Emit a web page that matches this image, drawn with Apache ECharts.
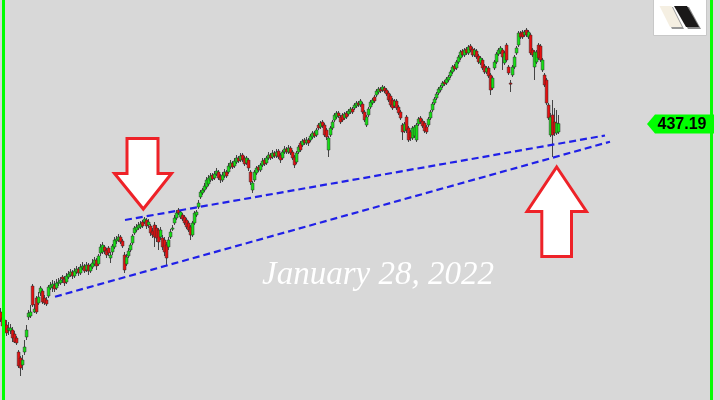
<!DOCTYPE html>
<html><head><meta charset="utf-8">
<script src="https://cdn.jsdelivr.net/npm/echarts@6/dist/echarts.min.js"></script>
<style>html,body{margin:0;padding:0;background:#d8d8d8}#c{width:720px;height:400px}</style>
</head><body><div id="c"></div>
<script>
// Daily OHLC values, index = trading day
const openP = [343,340,339,336.5,334,333.5,334,332,330,323,320,316.5,323,330.5,340.5,341,356,343,350,347.5,352.5,353.5,350,349,351,355,355.5,356.5,
355,357.5,357.5,360.5,359.5,358,360.5,361.5,363,361,363,364.5,362.5,365,366,364,366.5,363.5,365.5,367,369,367,
372.5,373,375.5,374,375,370,373,375.5,378.5,379,380.5,378.5,371.5,367,371,374,377.5,382.5,384,385,385.5,388,388,389,386.5,386,383.5,386.5,385,384,380.5,380,379,376.5,375.5,380.5,384.5,387.5,390,394,390.5,391.5,390.5,389,387.5,385.5,381.5,387.5,391.5,395.5,400.5,402.5,404,405.5,
407,409,411.5,410,412,413,411,409,411,413,413,415.5,417.5,416,418,420,419,421.5,420,417.5,419,413,404,409,412.5,415.5,414,416.5,419,417.5,420,421.5,420.5,422.5,421,423.5,421.5,420,423,424.5,423,425,423,420.5,418,423,
427.5,426.5,429,427.5,429,429,430.5,432.5,431.5,436.5,435.5,438,436.5,434,424,431.5,435,439,440.5,442.5,440.5,441.5,440,442.5,442,443,444.5,445,446,447.5,446.5,447,443,436.5,441.5,445.5,447.5,450.5,451.5,453,454.5,454,455,454,452.5,451,449,446,448.5,445.5,443,436.5,433.5,440.5,435,433,430,431,429,437,440,438.5,437.5,435.5,436.5,440,444,447.5,450,452.5,454,456,458,457.5,459,
461,463,466,465,468,470,473.5,471.5,474.5,472.5,476,474.5,471.5,473.5,471,467.5,469,466,463,465,461.5,455,465,468,472,473,474,467.5,476.5,465.5,457.5,461.5,465.5,472.5,476.5,482.5,483,481.5,484,480.5,481.5,474,465.5,468,476.5,476,464,461.5,459,446.5,431.5,441.5,438,432.5,433];
const closeP = [339,336,333,332.5,335,335,330,328,327.5,316,315,319,325.5,334,342.5,343,346.5,344.5,343,350.5,355,348,347.5,347,355.5,356.5,357,354.5,
357.5,358,359,359.5,357.5,361,362,363,361,363.5,364.5,362.5,365.5,366,363.5,366.5,363.5,366,367.5,369,366,371,
375.5,376.5,373.5,371.5,372.5,371.5,376,379,379.5,380.5,378,376,364,370.5,373.5,376.5,381,385,385.5,386.5,387,386,389.5,386,388,382.5,381.5,380.5,380,378,384,375.5,373,370,379,383,385,390,392.5,392.5,393,389.5,387.5,385.5,384,381.5,387.5,392.5,393,397.5,403,404,406,409,
410,411,409.5,412,413.5,410,409,411.5,413,411,416,417.5,415.5,418.5,420,418.5,421,419,417,420,415,408,407.5,413,415,414,416.5,418.5,417,420,421.5,420,422.5,421,423,420.5,419,423,424.5,423,425,422.5,420,416.5,422.5,425.5,
424,428.5,427.5,429,427.5,431,432.5,431,434,435,437.5,436,431.5,430.5,430,435,438,441.5,442.5,441,438,439,442,440.5,443.5,444.5,443,446.5,447.5,446.5,448.5,443,439,440.5,444.5,448,449,448.5,453.5,454.5,453.5,455.5,453.5,452,449,446.5,445,448.5,445,442.5,440,433,437,434,429,430,435,435.5,436.5,439.5,438,436,433.5,433,439.5,443,447,449.5,452,454.5,455.5,457.5,457,459.5,460.5,
463,465.5,464.5,468,470.5,473,471.5,474,472.5,475.5,474,471.5,474,470.5,468,470,465,463,465,461,454,460,468,472,474,475,470.5,472.5,469,462.5,457,465.5,470.5,475,482.5,480.5,480.5,483,481.5,483,472.5,471.5,473,473,470,469,469,456.5,447.5,440,440.5,431.5,432.5,437.5,437.19];
const lowP = [338,334,331.5,331,331.5,332,328,327.5,326.5,315,311,314,321.5,329,339,340,345.5,342.5,342,346.5,351,347,346.5,346,350,354,353,353,
354,356,356.5,357.5,356,357,359.5,360.5,359.5,360,362,361,361.5,364,362.5,363,361.5,362.5,364.5,366,364,366,
371,372,372,370,371,367.5,371.5,374.5,377,378,377,375,362.5,366,370,373,376.5,381.5,383,384,384.5,385,387,384.5,385,381,380,375.5,378,374,379,374,371,366.5,374,379.5,383.5,386.5,389,391.5,389.5,388.5,386.5,384.5,383,379,380.5,386.5,390.5,394.5,399.5,401.5,403,404.5,
406,408,408.5,409,411,409,407.5,408,410,410,412,414.5,414.5,415,417,417.5,418,418,416,416.5,413.5,406.5,402.5,408,411.5,413,413,415.5,416,416.5,419,419,419.5,420,420,419.5,417.5,419,422,422,422,421.5,419,415,417,422,
423,425.5,426.5,426.5,426,428,429.5,430,430.5,434,434.5,435,430.5,429,420.5,430.5,434,438,439.5,440,437,438,439,439.5,441,442,442,444,445,445.5,445.5,442,438,435.5,440.5,444.5,446.5,447.5,450.5,452,452.5,453,452.5,451,448,445.5,444,445,444,441.5,439,429,432.5,432.5,428,428.5,429,430,428,436,437,435,432.5,432,435.5,439,443,446.5,449,451.5,453,455,456,456.5,458,
460,462,463.5,464,467,469,470.5,470.5,471.5,471.5,473,470.5,470.5,469.5,467,466.5,464,462,462,460,451.5,454,464,467,471,472,464,466.5,468,461.5,453,460.5,464.5,471.5,475.5,479.5,479.5,480.5,480.5,479.5,471.5,470.5,459,467,469,468,463,455.5,446.5,439,430.5,420.5,431,431.5,432];
const highP = [345,342,341,339,338,337,335.5,333.5,331,324,321,321.5,329,336.5,344,346.5,357,347,351,353,356,354.5,351.5,350.5,356.5,358,359,358.5,
359.5,360,360.5,361.5,361,362.5,363.5,364.5,364,365,366,365.5,367,368,367,368,367.5,367,369.5,370.5,370,372,
377,378,376.5,375,376,373,377,380.5,381,382,381.5,379.5,373,372,375,377.5,382,386,387,388,388.5,389,390.5,390,389.5,387,385,388,386.5,385,385.5,381.5,380.5,378,380.5,384.5,386.5,391.5,394,395,394,392.5,391.5,390,388.5,386.5,388.5,393.5,394,399,404,405,407.5,410.5,
411.5,412.5,412.5,413.5,415,414,412,413,414.5,414,417.5,419,418.5,420,421.5,421,422.5,422.5,421,421,420,414,408.5,414,416,416.5,417.5,420,420,421,423,422.5,424,423.5,424.5,424.5,422.5,424,426,425.5,426.5,426,424,421.5,423.5,426.5,
428.5,429.5,430,430.5,430,432,433.5,433.5,435,437.5,438.5,439,437.5,435,431,436,439,442.5,443.5,443.5,441.5,442.5,443,443.5,444.5,445.5,445.5,447.5,448.5,448.5,449.5,448,444,441.5,445.5,449,450,451.5,454.5,455.5,455.5,456.5,456,455,453.5,452,450,449.5,449.5,446.5,444,437.5,438,441.5,436,434,436,436.5,437.5,440.5,441,439.5,438.5,436.5,440.5,444,448,450.5,453,455.5,456.5,458.5,459,460.5,461.5,
464,466.5,467,469,471.5,474,474.5,475,475.5,476.5,477,475.5,475,474.5,472,471,470,467,466,466,462.5,461,469,473,475,476,475,473.5,477.5,466.5,459,466.5,471.5,476,483.5,483.5,484,484,485,484,482.5,475,474,474,477.5,477,470,462.5,460,447.5,442.5,449,445,444,441.5];
// Trend lines: [day index, price] end points
const upperTrend = [[62, 389], [302, 431.25]];
const lowerTrend = [[27, 350.65], [304.5, 428.15]];
const lastPrice = 437.19;
const dateText = 'January 28, 2022';

const ohlc = openP.map((o, i) => [i, o, closeP[i], lowP[i], highP[i]]);

const chart = echarts.init(document.getElementById('c'), null, {renderer: 'canvas'});
const option = {
  backgroundColor: '#d8d8d8',
  animation: false,
  grid: {left: 0, right: 0, top: 0, bottom: 0},
  xAxis: {type: 'value', min: -0.5, max: 359.5, show: false},
  yAxis: {type: 'value', min: 299, max: 499, show: false},
  series: [
    {
      type: 'custom',
      data: ohlc,
      encode: {x: 0, y: [1, 2, 3, 4]},
      renderItem: function (params, api) {
        const i = api.value(0), o = api.value(1), c = api.value(2), l = api.value(3), h = api.value(4);
        const pO = api.coord([i, o]), pC = api.coord([i, c]), pL = api.coord([i, l]), pH = api.coord([i, h]);
        const x = Math.round(pO[0]);
        const up = c >= o;
        const top = Math.min(pO[1], pC[1]), bot = Math.max(pO[1], pC[1]);
        return {
          type: 'group',
          children: [
            {type: 'line', shape: {x1: x - 0.5, y1: pH[1], x2: x - 0.5, y2: pL[1]}, style: {stroke: '#444444', lineWidth: 1}},
            {type: 'rect', shape: {x: x - 1.8, y: top, width: 2.8, height: Math.max(bot - top, 1.2)},
              style: {fill: up ? '#16e016' : '#e81010', stroke: '#2a2a2a', lineWidth: 0.5}}
          ]
        };
      },
      z: 3
    },
    {
      type: 'line', data: upperTrend, symbol: 'none', silent: true,
      lineStyle: {color: '#2020e8', width: 2.2, type: [7, 4]}, z: 4
    },
    {
      type: 'line', data: lowerTrend, symbol: 'none', silent: true,
      lineStyle: {color: '#2020e8', width: 2.2, type: [7, 4]}, z: 4
    }
  ]
};
chart.setOption(option);

const yLast = chart.convertToPixel({gridIndex: 0}, [0, lastPrice])[1];
const yl = Math.round(yLast);

chart.setOption({
  graphic: [
    {type: 'rect', shape: {x: 2, y: 0, width: 3, height: 400}, style: {fill: '#00ff00'}, z: 10},
    {type: 'rect', shape: {x: 710, y: 0, width: 3, height: 400}, style: {fill: '#00ff00'}, z: 10},
    {type: 'polygon', shape: {points: [[127,138.5],[158,138.5],[158,173.5],[171.5,173.5],[143.3,209],[114.5,173.5],[127,173.5]]},
      style: {fill: '#ffffff', stroke: '#ee2228', lineWidth: 3}, z: 10},
    {type: 'polygon', shape: {points: [[556.7,167],[586.5,211.5],[571.5,211.5],[571.5,256.5],[541.8,256.5],[541.8,211.5],[527,211.5]]},
      style: {fill: '#ffffff', stroke: '#ee2228', lineWidth: 3}, z: 10},
    {type: 'text', left: 262, top: 259, z: 10,
      style: {text: dateText, fill: '#ffffff', font: 'italic 300 33px "Liberation Serif", serif'}},
    {type: 'polygon', shape: {points: [[647,yl],[655,yl-9.5],[714,yl-9.5],[714,yl+9.5],[655,yl+9.5]]},
      style: {fill: '#00ff00'}, z: 11},
    {type: 'text', x: 682, y: yl + 1, z: 12,
      style: {text: lastPrice.toFixed(2), fill: '#000', font: 'bold 16px "Liberation Sans", Arial, sans-serif', align: 'center', verticalAlign: 'middle'}},
    {type: 'rect', shape: {x: 653.5, y: -1, width: 53, height: 36.5}, style: {fill: '#ffffff', stroke: '#c8c8c8', lineWidth: 1}, z: 10},
    {type: 'polygon', shape: {points: [[661,7],[673,7],[684,29],[672,29]]}, style: {fill: '#999999'}, z: 11},
    {type: 'polygon', shape: {points: [[659.5,6],[671.5,6],[682,27],[670,27]]}, style: {fill: '#f5efe2'}, z: 12},
    {type: 'polygon', shape: {points: [[676,7],[689,7],[701,29],[688,29]]}, style: {fill: '#888888'}, z: 11},
    {type: 'polygon', shape: {points: [[674,6],[687,6],[699,27],[686,27]]}, style: {fill: '#1a1818'}, z: 12}
  ]
});
</script>
</body></html>
